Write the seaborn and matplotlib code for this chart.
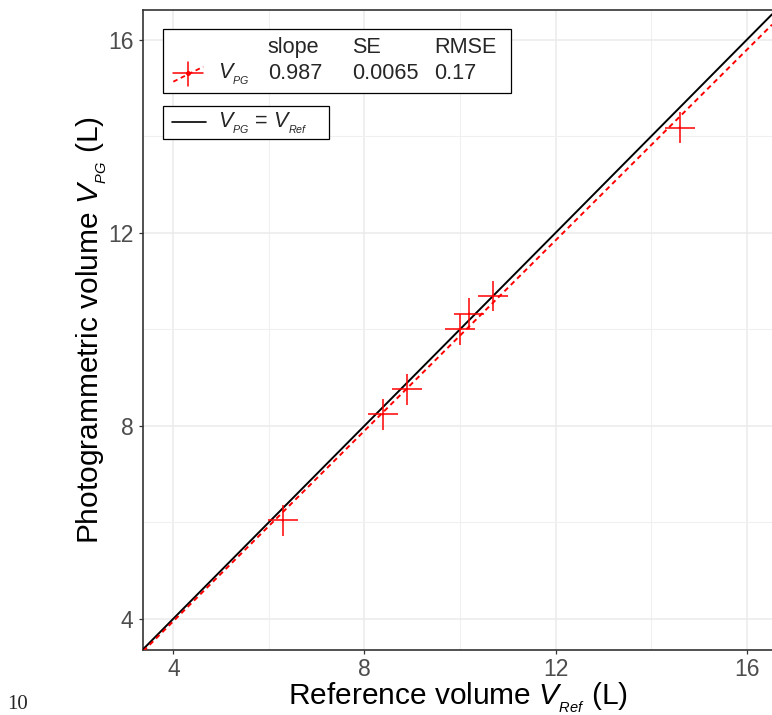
import numpy as np
import pandas as pd
import matplotlib
matplotlib.use("Agg")
import matplotlib.pyplot as plt
import seaborn as sns
from matplotlib.lines import Line2D
from matplotlib.patches import Rectangle

# ---- data ----
ref_volume = [6.29, 8.39, 8.89, 10.00, 10.19, 10.69, 14.60]
pg_volume = [6.04, 8.24, 8.76, 10.00, 10.32, 10.69, 14.18]
ref_err = [0.32, 0.32, 0.32, 0.32, 0.32, 0.32, 0.32]
pg_err = [0.32, 0.32, 0.32, 0.32, 0.32, 0.32, 0.32]
fit_slope = 0.987
stats_headers = ["slope", "SE", "RMSE"]
stats_values = ["0.987", "0.0065", "0.17"]
x_ticks = [4, 8, 12, 16]
y_ticks = [4, 8, 12, 16]
minor_ticks = [6, 10, 14]
x_limits = [3.37, 16.53]
y_limits = [3.35, 16.62]

df = pd.DataFrame({"ref": ref_volume, "pg": pg_volume,
                   "ref_err": ref_err, "pg_err": pg_err})

sns.set_theme(style="whitegrid")
plt.rcParams["font.family"] = ["Liberation Sans", "DejaVu Sans"]
plt.rcParams["mathtext.fontset"] = "custom"
plt.rcParams["mathtext.rm"] = "Liberation Sans"
plt.rcParams["mathtext.it"] = "Liberation Sans:italic"
plt.rcParams["mathtext.bf"] = "Liberation Sans:bold"

W, H = 772, 715
fig = plt.figure(figsize=(W / 100, H / 100), dpi=100)
fig.patch.set_facecolor("white")


def fx(x):
    return x / W


def fy(y):
    return 1 - y / H


ax = fig.add_axes([fx(143.3), fy(650), (W - 143.3) / W, (650 - 10) / H])
ax.set_facecolor("white")
ax.set_xlim(x_limits)
ax.set_ylim(y_limits)

RED = "#FF0000"

# identity line
lims = np.array(x_limits)
sns.lineplot(x=lims, y=lims, ax=ax, color="black", lw=1.4, zorder=3)
# fitted line
sns.lineplot(x=lims, y=fit_slope * lims, ax=ax, color=RED, lw=1.4,
             linestyle=(0, (2.6, 2.0)), zorder=4)

# error crosses
ax.errorbar(df["ref"], df["pg"], xerr=df["ref_err"], yerr=df["pg_err"],
            fmt="none", ecolor=RED, elinewidth=1.1, capsize=0, zorder=5)
sns.scatterplot(data=df, x="ref", y="pg", ax=ax, color=RED, s=3,
                edgecolor="none", zorder=6)

# axes styling
ax.set_xticks(x_ticks)
ax.set_yticks(y_ticks)
ax.set_xticks(minor_ticks, minor=True)
ax.set_yticks(minor_ticks, minor=True)
ax.grid(which="major", color="#EBEBEB", lw=1.1)
ax.grid(which="minor", color="#F0F0F0", lw=0.8)
ax.set_axisbelow(True)
ax.tick_params(which="major", length=3, width=0.9, color="#333333",
               labelcolor="#4D4D4D", labelsize=16.5, bottom=True, left=True)
ax.tick_params(axis="x", pad=3)
ax.tick_params(axis="y", pad=4)
ax.tick_params(which="minor", length=0)
for side in ["left", "bottom", "top"]:
    ax.spines[side].set_color("#333333")
    ax.spines[side].set_linewidth(1.2)
    ax.spines[side].set_visible(True)
ax.spines["right"].set_visible(False)

ax.set_xlabel(r"Reference volume $V_{_{Ref}}$ (L)", fontsize=21.5,
              color="black", labelpad=-0.5)
ax.set_ylabel(r"Photogrammetric volume $V_{_{PG}}$ (L)", fontsize=21.5,
              color="black", labelpad=-1)

# ---- legend box 1 (stats table) ----
fig.add_artist(Rectangle((fx(162.7), fy(92.7)), (510.7 - 162.7) / W,
                         (92.7 - 29.3) / H, transform=fig.transFigure,
                         facecolor="white", edgecolor="black", lw=0.9,
                         zorder=10))
col_x = [267.7, 351.7, 434.0]
for cx, head, val in zip(col_x, stats_headers, stats_values):
    fig.text(fx(cx), fy(53.3), head, fontsize=15.6, ha="left",
             va="baseline", zorder=11)
    fig.text(fx(cx), fy(79.3), val, fontsize=15.6, ha="left",
             va="baseline", zorder=11)
fig.text(fx(218), fy(79.3), r"$V_{_{PG}}$", fontsize=15.6, ha="left",
         va="baseline", zorder=11)
# handle: red cross with dashed line
fig.add_artist(Line2D([fx(172.7), fx(202.7)], [fy(73.3), fy(73.3)],
                      transform=fig.transFigure, color=RED, lw=1.1, zorder=11))
fig.add_artist(Line2D([fx(187.7), fx(187.7)], [fy(61.7), fy(86.0)],
                      transform=fig.transFigure, color=RED, lw=1.1, zorder=11))
fig.add_artist(Line2D([fx(173.3), fx(203.3)], [fy(81.7), fy(66.7)],
                      transform=fig.transFigure, color=RED, lw=1.3,
                      linestyle=(0, (2.6, 2.0)), zorder=11))
fig.add_artist(Line2D([fx(187.7)], [fy(73.3)], transform=fig.transFigure,
                      color=RED, marker="o", markersize=2.5, lw=0, zorder=12))

# ---- legend box 2 (identity line) ----
fig.add_artist(Rectangle((fx(162.7), fy(139.3)), (329.0 - 162.7) / W,
                         (139.3 - 105.7) / H, transform=fig.transFigure,
                         facecolor="white", edgecolor="black", lw=0.9,
                         zorder=10))
fig.add_artist(Line2D([fx(172.3), fx(205.7)], [fy(122.3), fy(122.3)],
                      transform=fig.transFigure, color="black", lw=1.2,
                      zorder=11))
fig.text(fx(218), fy(128.3), r"$V_{_{PG}}$ = $V_{_{Ref}}$", fontsize=15.6,
         ha="left", va="baseline", zorder=11)

# page number fragment
fig.text(fx(7), fy(709), "10", fontsize=15, family="Liberation Serif",
         ha="left", va="baseline")

fig.savefig("out.png", dpi=100)
